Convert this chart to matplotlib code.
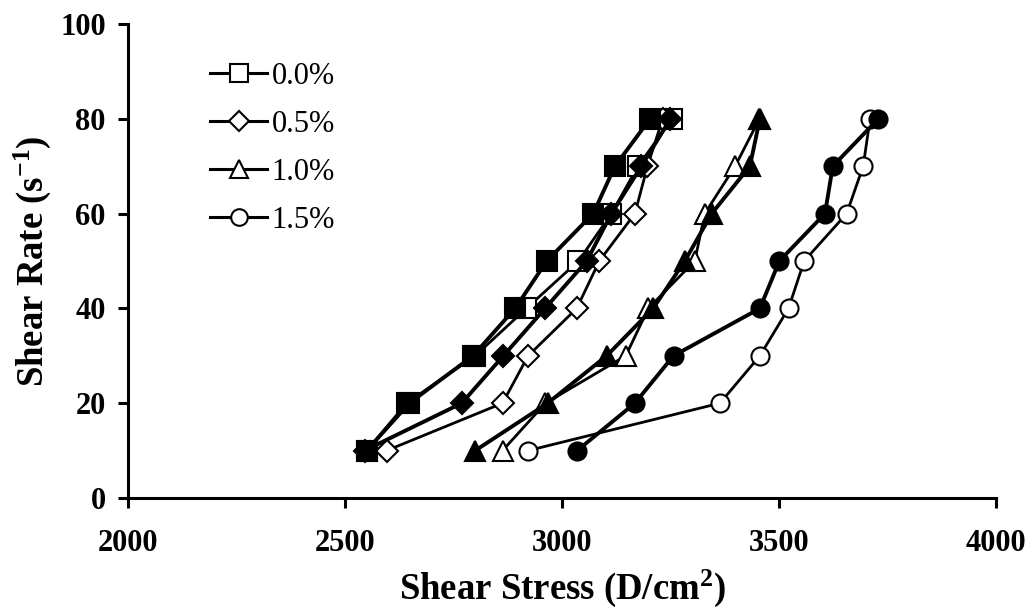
import matplotlib
matplotlib.use("Agg")
import matplotlib.pyplot as plt
from matplotlib.lines import Line2D

plt.rcParams['font.family'] = ['Liberation Serif', 'DejaVu Serif']
plt.rcParams['mathtext.fontset'] = 'custom'
plt.rcParams['mathtext.rm'] = 'Liberation Serif'
plt.rcParams['mathtext.bf'] = 'Liberation Serif:bold'
plt.rcParams['mathtext.it'] = 'Liberation Serif:italic'

# Shear rate levels (s^-1)
shear_rate = [10, 20, 30, 40, 50, 60, 70, 80]

# Shear stress (D/cm^2) for each concentration, open and filled sets
stress_open_00 = [2550, 2642, 2800, 2918, 3038, 3114, 3175, 3254]
stress_fill_00 = [2550, 2648, 2795, 2892, 2965, 3072, 3122, 3203]
stress_open_05 = [2596, 2863, 2922, 3034, 3086, 3168, 3197, 3232]
stress_fill_05 = [2545, 2769, 2865, 2961, 3057, 3114, 3183, 3250]
stress_open_10 = [2863, 2962, 3147, 3199, 3306, 3329, 3399, 3455]
stress_fill_10 = [2800, 2967, 3103, 3210, 3283, 3345, 3433, 3456]
stress_open_15 = [2922, 3364, 3456, 3522, 3558, 3656, 3694, 3710]
stress_fill_15 = [3035, 3168, 3257, 3456, 3501, 3606, 3624, 3729]

labels = ["0.0%", "0.5%", "1.0%", "1.5%"]
markers = ["s", "D", "^", "o"]
msizes = [14, 11, 14, 13]

open_sets = [stress_open_00, stress_open_05, stress_open_10, stress_open_15]
fill_sets = [stress_fill_00, stress_fill_05, stress_fill_10, stress_fill_15]

fig = plt.figure(figsize=(10.29, 6.12), dpi=100)
ax = fig.add_axes([0.1244, 0.1863, 0.8435, 0.7745])

for xs, m, ms in zip(open_sets, markers, msizes):
    ax.plot(xs, shear_rate, color='black', lw=2.0, marker=m, ms=ms,
            mfc='white', mec='black', mew=1.5, zorder=3)
for xs, m, ms in zip(fill_sets, markers, msizes):
    ax.plot(xs, shear_rate, color='black', lw=2.8, marker=m, ms=ms,
            mfc='black', mec='black', mew=1.5, zorder=4)

ax.set_xlim(2000, 4000)
ax.set_ylim(0, 100)
ax.set_xticks([2000, 2500, 3000, 3500, 4000])
ax.set_yticks([0, 20, 40, 60, 80, 100])

for side in ['top', 'right']:
    ax.spines[side].set_visible(False)
for side in ['left', 'bottom']:
    ax.spines[side].set_linewidth(2.2)

ax.tick_params(axis='both', direction='out', length=7, width=2.2,
               labelsize=22)
ax.tick_params(axis='x', pad=15)
ax.tick_params(axis='y', pad=9)
for lab in ax.get_xticklabels() + ax.get_yticklabels():
    lab.set_fontweight('bold')

ax.set_xlabel(r"Shear Stress (D/cm$^{\mathbf{2}}$)", fontsize=26.5,
              fontweight='bold', labelpad=7)
ax.set_ylabel(r"Shear Rate (s$^{\mathbf{-1}}$)", fontsize=26.5,
              fontweight='bold', labelpad=5)

handles = [Line2D([], [], color='black', lw=2.2, marker=m, ms=ms * 0.92,
                  mfc='white', mec='black', mew=1.5)
           for m, ms in zip(markers, msizes)]
ax.legend(handles, labels, loc='upper left', bbox_to_anchor=(0.095, 0.92),
          frameon=False, fontsize=22, handlelength=1.85, handletextpad=0.15,
          labelspacing=0.62, borderpad=0.0, borderaxespad=0.0)

fig.savefig("out.png", dpi=100)
